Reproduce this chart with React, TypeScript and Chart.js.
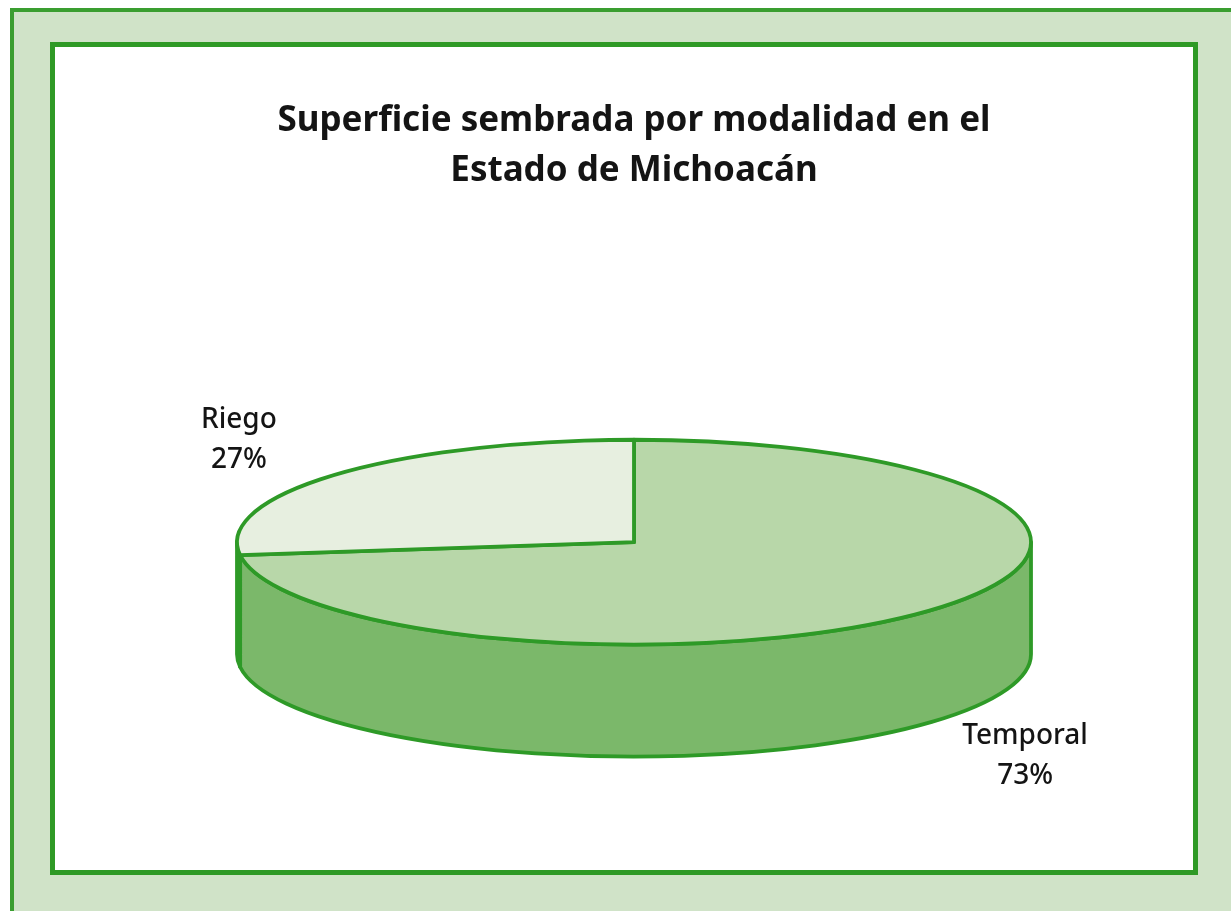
import React, { useEffect, useRef } from "react";
import { Chart, registerables } from "chart.js";

Chart.register(...registerables);

const categories = ["Temporal", "Riego"];
const values = [73, 27];
const percentLabels = ["73%", "27%"];
const titleLines = ["Superficie sembrada por modalidad en el", "Estado de Michoacán"];

const topColors = ["#b8d7a9", "#e7efe0"];
const sideColors = ["#7bb86a", "#cfe2c6"];
const strokeColor = "#2e9a27";

const TILT = 0.258; // vertical squash of the pie
const DEPTH = 112; // thickness of the pie

const pie3d = {
  id: "pie3d",
  beforeDatasetsDraw(chart: any) {
    const ctx = chart.ctx as CanvasRenderingContext2D;
    const meta = chart.getDatasetMeta(0);
    const arcs = meta.data as any[];
    if (!arcs.length) return false;
    const cx = arcs[0].x;
    const cy = arcs[0].y;
    const rx = arcs[0].outerRadius;
    const ry = rx * TILT;
    ctx.save();
    ctx.lineJoin = "round";
    ctx.lineWidth = 3.8;
    ctx.strokeStyle = strokeColor;

    // side walls (front half only: canvas angles 0..PI)
    arcs.forEach((arc, i) => {
      const s = arc.startAngle;
      const e = arc.endAngle;
      for (let k = -1; k <= 1; k++) {
        const lo = Math.max(s, k * 2 * Math.PI);
        const hi = Math.min(e, k * 2 * Math.PI + Math.PI);
        if (hi > lo) {
          ctx.beginPath();
          ctx.ellipse(cx, cy, rx, ry, 0, lo, hi);
          ctx.lineTo(cx + rx * Math.cos(hi), cy + ry * Math.sin(hi) + DEPTH);
          ctx.ellipse(cx, cy + DEPTH, rx, ry, 0, hi, lo, true);
          ctx.closePath();
          ctx.fillStyle = sideColors[i];
          ctx.fill();
          ctx.stroke();
        }
      }
    });

    // top faces
    arcs.forEach((arc, i) => {
      ctx.beginPath();
      ctx.moveTo(cx, cy);
      ctx.ellipse(cx, cy, rx, ry, 0, arc.startAngle, arc.endAngle);
      ctx.closePath();
      ctx.fillStyle = topColors[i];
      ctx.fill();
      ctx.stroke();
    });

    // labels
    ctx.fillStyle = "#141414";
    ctx.font = "500 28px 'Noto Sans'";
    ctx.textAlign = "center";
    ctx.textBaseline = "middle";
    arcs.forEach((arc, i) => {
      const mid = (arc.startAngle + arc.endAngle) / 2;
      const sn = Math.sin(mid);
      const lx = cx + rx * 1.32 * Math.cos(mid);
      const ly = cy + ry * 1.51 * sn + (sn > 0 ? DEPTH : 0);
      ctx.fillText(categories[i], lx - 2, ly - 20);
      ctx.fillText(percentLabels[i], lx - 2, ly + 20);
    });
    ctx.restore();
    return false;
  },
};

export default function App() {
  const ref = useRef<HTMLCanvasElement>(null);
  useEffect(() => {
    if (!ref.current) return;
    const chart = new Chart(ref.current, {
      type: "pie",
      data: {
        labels: categories,
        datasets: [
          {
            data: values,
            backgroundColor: topColors,
            borderColor: strokeColor,
            radius: 397,
          } as any,
        ],
      },
      options: {
        animation: false,
        responsive: false,
        devicePixelRatio: 1,
        layout: { padding: { left: 236, right: 199, top: 0, bottom: 22 } },
        plugins: {
          legend: { display: false },
          tooltip: { enabled: false },
          title: {
            display: true,
            text: titleLines,
            color: "#141414",
            font: { family: "'Noto Sans'", size: 35, weight: "bold", lineHeight: 1.42 },
            padding: { top: 96, bottom: 0 },
          },
        },
      },
      plugins: [pie3d],
    });
    return () => chart.destroy();
  }, []);

  return (
    <div style={{ position: "absolute", left: 0, top: 0, width: 1231, height: 911, background: "#ffffff", overflow: "hidden" }}>
      <div
        style={{
          position: "absolute",
          left: 10,
          top: 8,
          right: 0,
          bottom: 0,
          background: "#d0e3c8",
          borderLeft: "4px solid #3a9e30",
          borderTop: "4px solid #3a9e30",
        }}
      />
      <div
        style={{
          position: "absolute",
          left: 50,
          top: 42,
          width: 1138,
          height: 823,
          background: "#ffffff",
          border: "5px solid #2f9a26",
        }}
      />
      <canvas ref={ref} width={1231} height={911} style={{ position: "absolute", left: 0, top: 0 }} />
    </div>
  );
}
